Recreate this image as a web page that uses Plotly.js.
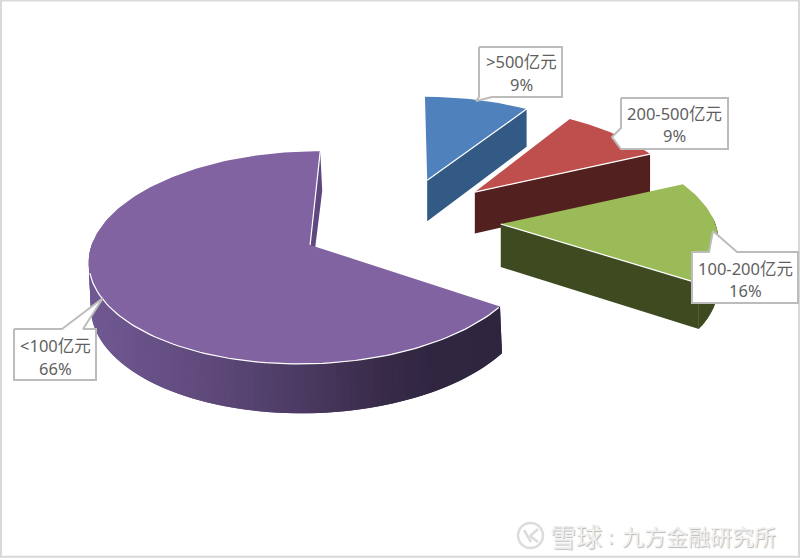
<!DOCTYPE html>
<html>
<head>
<meta charset="utf-8">
<script src="https://cdn.plot.ly/plotly-3.0.1.min.js"></script>
<style>html,body{margin:0;padding:0;background:#fff}#c{width:800px;height:558px}</style>
</head>
<body>
<div id="c"></div>
<script>
// ---- chart values ----
var categories = ['<100亿元', '100-200亿元', '200-500亿元', '>500亿元'];
var shares = [66, 16, 9, 9];
var shareLabels = ['66%', '16%', '9%', '9%'];

// ---- styles ----
var topColors = ['#8063a0', '#9bbb59', '#bf4f4c', '#4f81bd'];
var wallColors = ['#5f4880', '#3e4a20', '#52201f', '#335a85'];
var rimStops = [[90, [112, 88, 146]], [200, [96, 74, 124]], [300, [74, 58, 98]], [370, [58, 44, 74]], [430, [48, 38, 64]], [505, [46, 37, 62]]];

// ---- projection of the exploded disc ----
var cx = 399, cy = 225, tilt = 0.47, persp = 0.0005, explode = 100, depth = 43, startDeg = 89.6;
var radii = [214, 216, 216, 216];
// small placement nudges per slice (world units), apex shifts and wall-foot shifts (pixels)
var nudge = [[1, 4], [1, 7], [0, 7], [0, 4]];
var apexShift = [[0, -1], [1, -1], [3, 0], [1, 0]];
var footShift = [2, 0, 0, 0];

function project(X, Y, down) {
  var den = 1 + persp * Y;
  return [cx + X / den, cy - tilt * Y / den + (down ? depth / den : 0)];
}
function sliceGeom(i) {
  var total = shares.reduce(function (a, b) { return a + b; }, 0);
  var before = shares.slice(0, i).reduce(function (a, b) { return a + b; }, 0);
  var a0 = startDeg + before / total * 360, a1 = a0 + shares[i] / total * 360;
  var mid = (a0 + a1) / 2 * Math.PI / 180;
  return {a0: a0, a1: a1, ox: explode * Math.cos(mid) + nudge[i][0], oy: explode * Math.sin(mid) + nudge[i][1], i: i};
}
function rim(g, deg, down) {
  var t = deg * Math.PI / 180, R = radii[g.i];
  var p = project(g.ox + R * Math.cos(t), g.oy + R * Math.sin(t), down);
  if (down) p[0] += footShift[g.i];
  return p;
}
function poly(pts, fill, lineColor, lineW) {
  var xs = pts.map(function (p) { return p[0]; }), ys = pts.map(function (p) { return p[1]; });
  xs.push(xs[0]); ys.push(ys[0]);
  return {type: 'scatter', mode: 'lines', x: xs, y: ys, fill: 'toself', fillcolor: fill,
    line: {color: lineColor || fill, width: lineW === undefined ? 0 : lineW}, hoverinfo: 'skip', showlegend: false};
}
function path(pts, color, w) {
  return {type: 'scatter', mode: 'lines', x: pts.map(function (p) { return p[0]; }), y: pts.map(function (p) { return p[1]; }),
    line: {color: color, width: w}, hoverinfo: 'skip', showlegend: false};
}
function rimColor(x) {
  for (var k = 0; k < rimStops.length - 1; k++) {
    if (x <= rimStops[k + 1][0]) {
      var f = Math.max(0, (x - rimStops[k][0]) / (rimStops[k + 1][0] - rimStops[k][0]));
      var c = rimStops[k][1].map(function (v, j) { return Math.round(v + f * (rimStops[k + 1][1][j] - v)); });
      return 'rgb(' + c.join(',') + ')';
    }
  }
  return 'rgb(' + rimStops[rimStops.length - 1][1].join(',') + ')';
}

var traces = [];
[3, 2, 1, 0].forEach(function (i) {
  var g = sliceGeom(i);
  var base = project(g.ox, g.oy, false);
  var apexT = [base[0] + apexShift[i][0], base[1] + apexShift[i][1]];
  var baseB = project(g.ox, g.oy, true);
  var apexB = [baseB[0] + apexShift[i][0], baseB[1] + apexShift[i][1]];
  // wall on the slice's starting cut
  traces.push(poly([apexT, rim(g, g.a0, false), rim(g, g.a0, true), apexB], wallColors[i]));
  // outer wall on the front half of the disc; strips overlap so no seams show
  var step = 1.5;
  for (var d = g.a0; d < g.a1; d += step) {
    var e = Math.min(d + 2 * step, g.a1);
    var ms = Math.sin((d + step / 2) * Math.PI / 180);
    if (ms > 0.05) continue;
    var pa = rim(g, d, false), pb = rim(g, e, false);
    var col = i === 0 ? rimColor(pa[0]) : wallColors[i];
    traces.push(poly([pa, pb, rim(g, e, true), rim(g, d, true)], col));
  }
  // top face
  var face = [apexT];
  for (var a = g.a0; a <= g.a1 + 0.001; a += 1.5) face.push(rim(g, a, false));
  face.push(rim(g, g.a1, false));
  traces.push(poly(face, topColors[i]));
  // white edge highlights
  traces.push(path([apexT, rim(g, g.a0, false)], '#ffffff', 1.2));
  var edge = [];
  for (var b = g.a0; b <= g.a1 + 0.001; b += 1.5) {
    if (Math.sin(b * Math.PI / 180) < -0.25) edge.push(rim(g, b, false));
  }
  if (edge.length) traces.push(path(edge, '#ffffff', 1.2));
});

// ---- callout boxes: box corners, then pointer tip and its base ----
var callouts = [
  {cat: 3, box: [479, 47, 562, 97], tip: [476, 101], base: [[492, 97], [479, 97]], lines: [61, 84], xc: 521},
  {cat: 2, box: [621, 98, 728, 149], tip: [612, 137], base: [[621, 128], [621, 149]], lines: [113, 135], xc: 674.5},
  {cat: 1, box: [692, 252, 798, 303], tip: [713, 231], base: [[709, 252], [737, 252]], lines: [268, 290], xc: 745.5},
  {cat: 0, box: [14, 329, 96, 380], tip: [103, 298], base: [[62, 329], [83, 329]], lines: [345, 368], xc: 55}
];
var annotations = [];
function esc(s) { return s.replace(/</g, '&lt;').replace(/>/g, '&gt;'); }
function calloutOutline(c) {
  var b = c.box, l = b[0], t = b[1], r = b[2], u = b[3];
  if (c.cat === 2) return [[l, t], [r, t], [r, u], [l, u], c.base[1], c.tip, c.base[0]];
  if (c.cat === 3) return [[l, t], [r, t], [r, u], c.base[0], c.tip, [l, u]];
  return [[l, t], c.base[0], c.tip, c.base[1], [r, t], [r, u], [l, u]];
}
callouts.forEach(function (c) {
  traces.push(poly(calloutOutline(c), '#ffffff', '#bcbcbc', 2));
  [esc(categories[c.cat]), shareLabels[c.cat]].forEach(function (txt, k) {
    annotations.push({xref: 'x', yref: 'y', x: c.xc, y: c.lines[k], text: txt, showarrow: false,
      xanchor: 'center', yanchor: 'middle',
      font: {family: '"Noto Sans", "Noto Sans CJK SC", sans-serif', size: 16.5, color: '#5f5f5f'}});
  });
});

// ---- watermark ----
var wmFont = function (s) {
  return {family: '"Noto Sans CJK SC", sans-serif', size: s, color: '#f0f0f0', shadow: '1px 1px 1px #b8b8b8'};
};
annotations.push({xref: 'x', yref: 'y', x: 576, y: 535, text: '雪球', showarrow: false, xanchor: 'center', yanchor: 'middle', font: wmFont(26)});
annotations.push({xref: 'x', yref: 'y', x: 611, y: 535, text: ':', showarrow: false, xanchor: 'center', yanchor: 'middle', font: wmFont(20)});
annotations.push({xref: 'x', yref: 'y', x: 699, y: 535, text: '九方金融研究所', showarrow: false, xanchor: 'center', yanchor: 'middle', font: wmFont(22)});

var wmLine = {color: '#dcdcdc', width: 2.5};
var shapes = [
  {type: 'rect', xref: 'x', yref: 'y', x0: 1, x1: 799, y0: 0.5, y1: 556.8, line: {color: '#d9d9d9', width: 2}, layer: 'below'},
  {type: 'circle', xref: 'x', yref: 'y', x0: 518, x1: 543, y0: 523, y1: 548, line: wmLine},
  {type: 'line', xref: 'x', yref: 'y', x0: 524, x1: 531, y0: 530, y1: 542, line: wmLine},
  {type: 'line', xref: 'x', yref: 'y', x0: 538, x1: 530, y0: 529, y1: 536, line: wmLine},
  {type: 'line', xref: 'x', yref: 'y', x0: 530, x1: 538, y0: 536, y1: 542, line: wmLine}
];

Plotly.newPlot('c', traces, {
  width: 800, height: 558, margin: {l: 0, r: 0, t: 0, b: 0},
  paper_bgcolor: '#ffffff', plot_bgcolor: '#ffffff', showlegend: false,
  xaxis: {range: [0, 800], visible: false, fixedrange: true},
  yaxis: {range: [558, 0], visible: false, fixedrange: true},
  annotations: annotations, shapes: shapes
}, {displayModeBar: false, staticPlot: true});
</script>
</body>
</html>
